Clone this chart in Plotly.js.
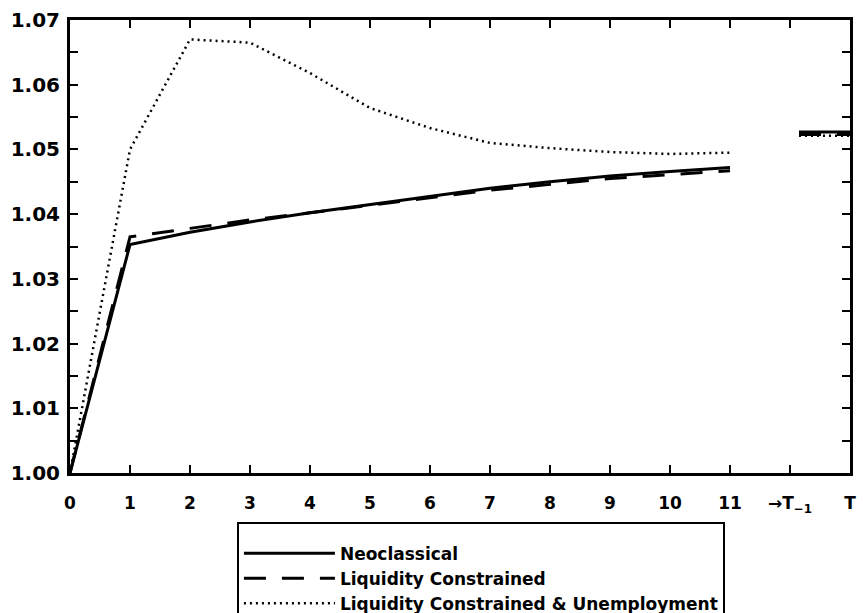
<!DOCTYPE html>
<html>
<head>
<meta charset="utf-8">
<script src="https://cdn.plot.ly/plotly-3.0.1.min.js"></script>
<style>html,body{margin:0;padding:0;background:#fff;}#chart{width:863px;height:613px;}</style>
</head>
<body>
<div id="chart"></div>
<script>
// periods 0..11
const periods = [0,1,2,3,4,5,6,7,8,9,10,11];
const neoclassical = [1.000,1.0353,1.0372,1.0388,1.0402,1.0415,1.0428,1.0440,1.0450,1.0459,1.0466,1.0472];
const liquidity    = [1.000,1.0365,1.0378,1.0391,1.0402,1.0414,1.0426,1.0437,1.0446,1.0455,1.0461,1.0467];
const unemployment = [1.000,1.0500,1.0670,1.0665,1.0618,1.0564,1.0533,1.0510,1.0502,1.0496,1.0493,1.0495];
// terminal segment (T-1 -> T)
const terminalX = [12.15, 13];
const neoclassicalT = [1.0527, 1.0527];
const liquidityT    = [1.0523, 1.0523];
const unemploymentT = [1.0521, 1.0521];
// tick labels
const xTickVals = [0,1,2,3,4,5,6,7,8,9,10,11,12,13];
const xTickText = ['0','1','2','3','4','5','6','7','8','9','10','11','→T<sub>−1</sub>','T'];
const yTickVals = [1.00,1.01,1.02,1.03,1.04,1.05,1.06,1.07];

const names = ['Neoclassical','Liquidity Constrained','Liquidity Constrained &amp; Unemployment'];

function join(a, b){ return a.concat([null], b); }
const xAll = join(periods, terminalX);

const traces = [
  {x: xAll, y: join(neoclassical, neoclassicalT), name: names[0], mode:'lines',
   line:{color:'#000', width:3, dash:'solid'}},
  {x: xAll, y: join(liquidity, liquidityT), name: names[1], mode:'lines',
   line:{color:'#000', width:3, dash:'22px,16px'}},
  {x: xAll, y: join(unemployment, unemploymentT), name: names[2], mode:'lines',
   line:{color:'#000', width:2.5, dash:'2px,4px'}}
];

const tickFontY = {family:'DejaVu Sans', size:20, color:'#000', weight:'bold'};
const tickFontX = {family:'DejaVu Sans', size:17, color:'#000', weight:'bold'};

const layout = {
  width:863, height:613,
  margin:{l:70, r:13, t:20, b:140, autoexpand:false},
  paper_bgcolor:'#fff', plot_bgcolor:'#fff',
  showlegend:true,
  legend:{
    x:0.214, xanchor:'left', y:-0.108, yanchor:'top',
    bgcolor:'#fff', bordercolor:'#000', borderwidth:2,
    font:{family:'DejaVu Sans', size:17, color:'#000', weight:'bold'},
    title:{text:'&nbsp;', font:{size:9}},
    tracegroupgap:0, itemwidth:91
  },
  xaxis:{
    range:[0,13], showgrid:false, zeroline:false,
    showline:true, linecolor:'#000', linewidth:3, mirror:'ticks',
    ticks:'inside', ticklen:8, tickwidth:2, tickcolor:'#000',
    tickmode:'array', tickvals:xTickVals, ticktext:xTickText,
    tickfont:tickFontX, ticklabelstandoff:13
  },
  yaxis:{
    range:[1.00,1.07], showgrid:false, zeroline:false,
    showline:true, linecolor:'#000', linewidth:3, mirror:'ticks',
    ticks:'inside', ticklen:8, tickwidth:2, tickcolor:'#000',
    tickmode:'array', tickvals:yTickVals, tickformat:'.2f',
    tickfont:tickFontY, ticklabelstandoff:3,
    minor:{dtick:0.005, ticks:'inside', ticklen:8, tickwidth:2, tickcolor:'#000', showgrid:false}
  }
};

Plotly.newPlot('chart', traces, layout, {displayModeBar:false, staticPlot:true});
</script>
</body>
</html>
